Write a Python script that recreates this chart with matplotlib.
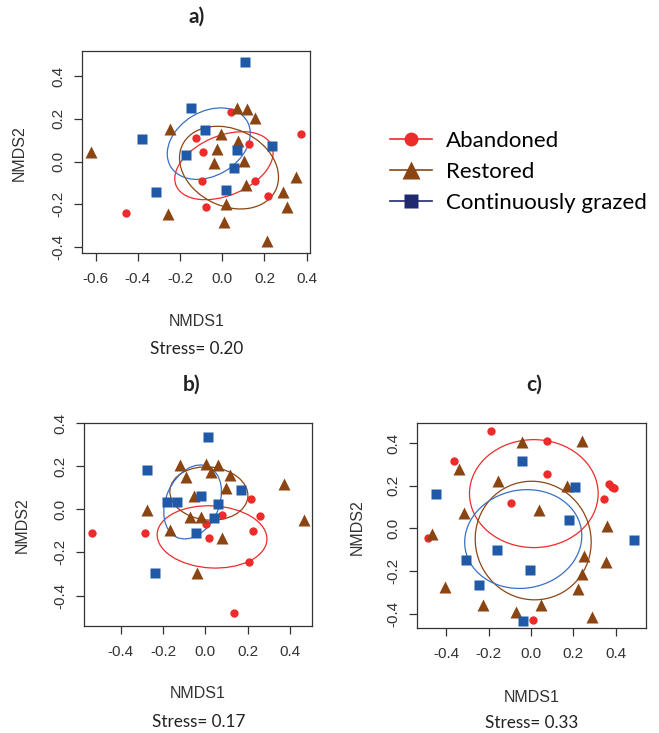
import matplotlib
matplotlib.use("Agg")
import matplotlib.pyplot as plt
from matplotlib.patches import Ellipse
from matplotlib.lines import Line2D

RED = "#ee2b2b"
BROWN = "#8b4513"
BLUE = "#1f59a8"
NAVY = "#1f2a6e"

# ---- panel a ----
a_aban_x = [0.040, -0.124, -0.093, 0.128, 0.373, -0.098, 0.155, 0.215, -0.076, -0.458]
a_aban_y = [0.233, 0.109, 0.045, 0.081, 0.129, -0.089, -0.089, -0.159, -0.212, -0.238]
a_rest_x = [-0.624, -0.248, 0.068, 0.116, 0.155, -0.006, 0.076, -0.027, -0.041,
            0.103, 0.111, 0.016, 0.010, -0.256, 0.210, 0.289, 0.305, 0.349]
a_rest_y = [0.044, 0.153, 0.249, 0.246, 0.202, 0.128, 0.096, 0.058, -0.005,
            0.005, -0.109, -0.198, -0.280, -0.243, -0.370, -0.143, -0.210, -0.070]
a_graz_x = [0.108, -0.150, -0.082, -0.380, -0.173, 0.068, 0.234, 0.056, 0.018, -0.316]
a_graz_y = [0.467, 0.249, 0.148, 0.107, 0.033, 0.054, 0.075, -0.028, -0.132, -0.140]
# ellipses: centre x, centre y, semi-axis a, semi-axis b, angle (deg)
a_aban_ell = [0.008, -0.019, 0.245, 0.140, 22]
a_rest_ell = [0.032, -0.028, 0.245, 0.180, -25]
a_graz_ell = [-0.064, 0.084, 0.210, 0.150, 30]

# ---- panel b ----
b_aban_x = [-0.538, -0.285, 0.003, 0.016, 0.080, 0.215, 0.259, 0.224, 0.207, 0.138]
b_aban_y = [-0.112, -0.112, -0.066, -0.131, -0.027, 0.047, -0.031, -0.100, -0.246, -0.479]
b_rest_x = [-0.122, 0.003, 0.059, 0.027, -0.092, 0.119, 0.099, -0.052,
            -0.278, -0.072, -0.019, -0.167, 0.080, -0.037, 0.374, 0.469]
b_rest_y = [0.207, 0.211, 0.204, 0.172, 0.150, 0.158, 0.101, 0.062,
            -0.003, -0.037, -0.037, -0.097, -0.131, -0.295, 0.119, -0.050]
b_graz_x = [0.013, -0.278, -0.183, -0.135, -0.019, 0.059, 0.167, 0.043, -0.045, -0.239]
b_graz_y = [0.334, 0.184, 0.036, 0.036, 0.062, 0.025, 0.090, -0.039, -0.109, -0.296]
b_aban_ell = [0.032, -0.128, 0.260, 0.144, -3]
b_rest_ell = [0.017, 0.073, 0.185, 0.123, -5]
b_graz_ell = [-0.060, 0.034, 0.180, 0.125, 65]

# ---- panel c ----
c_aban_x = [-0.186, 0.077, -0.363, 0.077, -0.096, 0.371, 0.382, 0.393, 0.347, -0.486, 0.008]
c_aban_y = [0.458, 0.408, 0.317, 0.257, 0.121, 0.207, 0.196, 0.187, 0.140, -0.044, -0.428]
c_rest_x = [-0.044, 0.240, -0.339, -0.155, 0.169, -0.316, 0.039, -0.467, 0.361,
            0.251, 0.353, 0.240, 0.224, -0.404, -0.226, -0.071, 0.050, 0.290]
c_rest_y = [0.403, 0.408, 0.278, 0.223, 0.199, 0.074, 0.086, -0.028, 0.011,
            -0.130, -0.158, -0.216, -0.282, -0.274, -0.361, -0.394, -0.361, -0.417]
c_graz_x = [-0.044, -0.447, 0.208, 0.180, 0.488, -0.158, -0.305, -0.005, -0.246, -0.039]
c_graz_y = [0.317, 0.160, 0.196, 0.039, -0.056, -0.102, -0.149, -0.196, -0.267, -0.436]
c_aban_ell = [0.014, 0.163, 0.304, 0.253, 0]
c_rest_ell = [0.011, -0.057, 0.280, 0.272, -60]
c_graz_ell = [-0.036, -0.050, 0.278, 0.230, 10]

labels = ["Abandoned", "Restored", "Continuously grazed"]
stress = ["Stress= 0.20", "Stress= 0.17", "Stress= 0.33"]
titles = ["a)", "b)", "c)"]

W, H = 659, 733
fig = plt.figure(figsize=(W / 100, H / 100), dpi=100)


def fx(px):
    return px / W


def fy(py):
    return 1 - py / H


def box(l, t, r, b):
    return [fx(l), fy(b), (r - l) / W, (b - t) / H]


panels = [
    dict(rect=box(82, 51, 310, 253), xlim=(-0.665, 0.416), ylim=(-0.427, 0.517),
         xt=[-0.6, -0.4, -0.2, 0.0, 0.2, 0.4],
         pts=[(a_aban_x, a_aban_y), (a_rest_x, a_rest_y), (a_graz_x, a_graz_y)],
         ell=[a_aban_ell, a_rest_ell, a_graz_ell],
         title=(197, 17), xl=(197, 321), st=(197, 349), yl=(19, 153)),
    dict(rect=box(84, 423, 312, 626), xlim=(-0.574, 0.505), ylim=(-0.541, 0.40),
         xt=[-0.4, -0.2, 0.0, 0.2, 0.4],
         pts=[(b_aban_x, b_aban_y), (b_rest_x, b_rest_y), (b_graz_x, b_graz_y)],
         ell=[b_aban_ell, b_rest_ell, b_graz_ell],
         title=(192, 385), xl=(198, 693), st=(199, 722), yl=(22, 525)),
    dict(rect=box(417, 423, 646, 628), xlim=(-0.538, 0.544), ylim=(-0.467, 0.494),
         xt=[-0.4, -0.2, 0.0, 0.2, 0.4],
         pts=[(c_aban_x, c_aban_y), (c_rest_x, c_rest_y), (c_graz_x, c_graz_y)],
         ell=[c_aban_ell, c_rest_ell, c_graz_ell],
         title=(534, 385), xl=(532, 698), st=(532, 723), yl=(357, 527)),
]

mk = [dict(marker="o", ms=6, color=RED),
      dict(marker="^", ms=8, color=BROWN),
      dict(marker="s", ms=7, color=BLUE)]
ell_col = [RED, BROWN, "#3a6fc4"]

for i, p in enumerate(panels):
    ax = fig.add_axes(p["rect"])
    for (xs, ys), m in zip(p["pts"], mk):
        ax.plot(xs, ys, linestyle="none", mec="none", **m)
    for e, c in zip(p["ell"], ell_col):
        ax.add_patch(Ellipse((e[0], e[1]), 2 * e[2], 2 * e[3], angle=e[4],
                             fill=False, ec=c, lw=0.9))
    ax.set_xlim(p["xlim"])
    ax.set_ylim(p["ylim"])
    ax.set_xticks(p["xt"])
    ax.set_yticks([-0.4, -0.2, 0.0, 0.2, 0.4])
    ax.set_xticklabels([f"{v:.1f}" for v in p["xt"]])
    ax.set_yticklabels([f"{v:.1f}" for v in [-0.4, -0.2, 0.0, 0.2, 0.4]],
                       rotation=90, va="center")
    ax.tick_params(axis="both", length=6, width=0.9, color="#333333",
                   labelsize=11, labelcolor="#333333")
    ax.tick_params(axis="x", pad=8)
    ax.tick_params(axis="y", pad=6)
    for s in ax.spines.values():
        s.set_color("#333333")
        s.set_linewidth(0.9)
    for lab in ax.get_xticklabels() + ax.get_yticklabels():
        lab.set_fontfamily("Liberation Sans")

    fig.text(fx(p["title"][0]), fy(p["title"][1]), titles[i], ha="center", va="center",
             fontsize=15, fontweight="bold", family="Lato", color="#222222")
    fig.text(fx(p["xl"][0]), fy(p["xl"][1]), "NMDS1", ha="center", va="center",
             fontsize=11.5, family="Liberation Sans", color="#333333")
    fig.text(fx(p["st"][0]), fy(p["st"][1]), stress[i], ha="center", va="center",
             fontsize=12.3, family="Lato", color="#222222")
    fig.text(fx(p["yl"][0]), fy(p["yl"][1]), "NMDS2", ha="center", va="center",
             rotation=90, fontsize=11.5, family="Liberation Sans", color="#333333")

handles = [Line2D([], [], color=RED, marker="o", ms=10, mec="none", lw=1.2),
           Line2D([], [], color=BROWN, marker="^", ms=13, mec="none", lw=1.2),
           Line2D([], [], color=NAVY, marker="s", ms=10, mec="none", lw=1.2)]
fig.legend(handles, labels, loc="upper left", bbox_to_anchor=(fx(390), fy(131)),
           frameon=False, borderpad=0, borderaxespad=0, handlelength=1.9,
           handletextpad=0.6, labelspacing=0.5,
           prop=dict(family="Lato", size=16))

fig.savefig("out.png", dpi=100)
